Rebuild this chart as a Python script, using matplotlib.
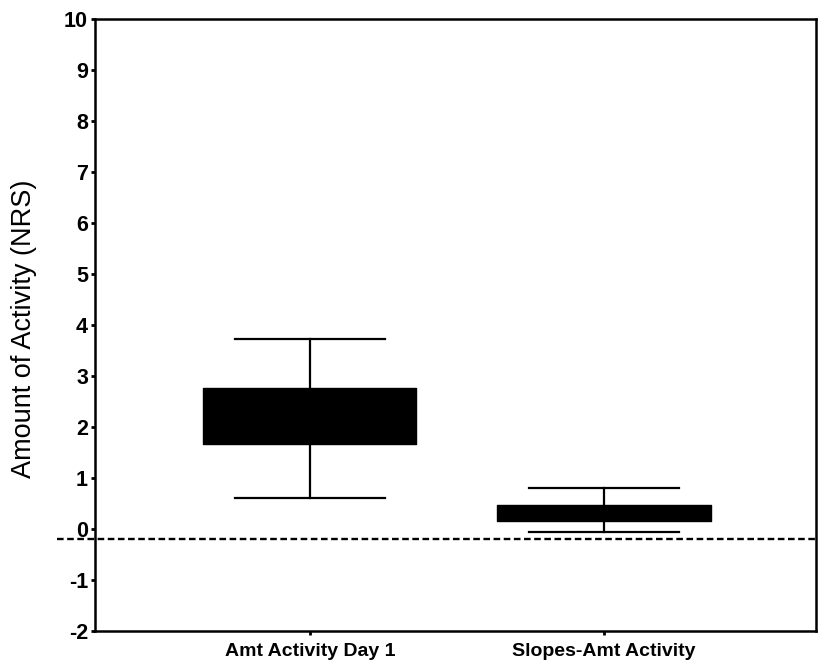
import matplotlib
matplotlib.use("Agg")
import matplotlib.pyplot as plt

plt.rcParams['font.family'] = ['Liberation Sans', 'DejaVu Sans']
plt.rcParams['axes.unicode_minus'] = False

# data
categories = ["Amt Activity Day 1", "Slopes-Amt Activity"]
q1 = [1.67, 0.15]
q3 = [2.76, 0.47]
med = [2.2, 0.3]
whislo = [0.61, -0.06]
whishi = [3.73, 0.80]
ref_line = -0.2

stats = []
for i in range(len(categories)):
    stats.append(dict(label=categories[i], q1=q1[i], q3=q3[i], med=med[i],
                      whislo=whislo[i], whishi=whishi[i], fliers=[]))

fig = plt.figure(figsize=(8.19, 6.64), dpi=100)
ax = fig.add_axes([0.116, 0.0497, 0.8803, 0.9217])

ax.bxp(stats, positions=[1, 2], widths=0.725, patch_artist=True, showfliers=False,
       boxprops=dict(facecolor='black', edgecolor='black', linewidth=1, joinstyle='round'),
       medianprops=dict(color='black', linewidth=1),
       whiskerprops=dict(color='black', linewidth=1.6),
       capprops=dict(color='black', linewidth=1.6),
       capwidths=0.51)

ax.axhline(ref_line, xmin=-0.053, xmax=1, color='black', linestyle=(0, (2.8, 1.5)),
           linewidth=1.7, clip_on=False)

ax.set_xlim(0.27, 2.72)
ax.set_ylim(-2, 10)
ax.set_yticks(range(-2, 11))
ax.set_xticks([1, 2])
ax.set_xticklabels(categories, fontsize=14, fontweight='bold')
for lab in ax.get_yticklabels():
    lab.set_fontsize(15.5)
    lab.set_fontweight('bold')
ax.tick_params(axis='both', direction='out', length=3, width=2)
ax.tick_params(axis='x', pad=6)
ax.tick_params(axis='y', pad=2)
ax.set_ylabel("Amount of Activity (NRS)", fontsize=19.5)
ax.yaxis.set_label_coords(-0.081, 0.493)
for s in ax.spines.values():
    s.set_linewidth(1.8)

fig.savefig("out.png", dpi=100)
